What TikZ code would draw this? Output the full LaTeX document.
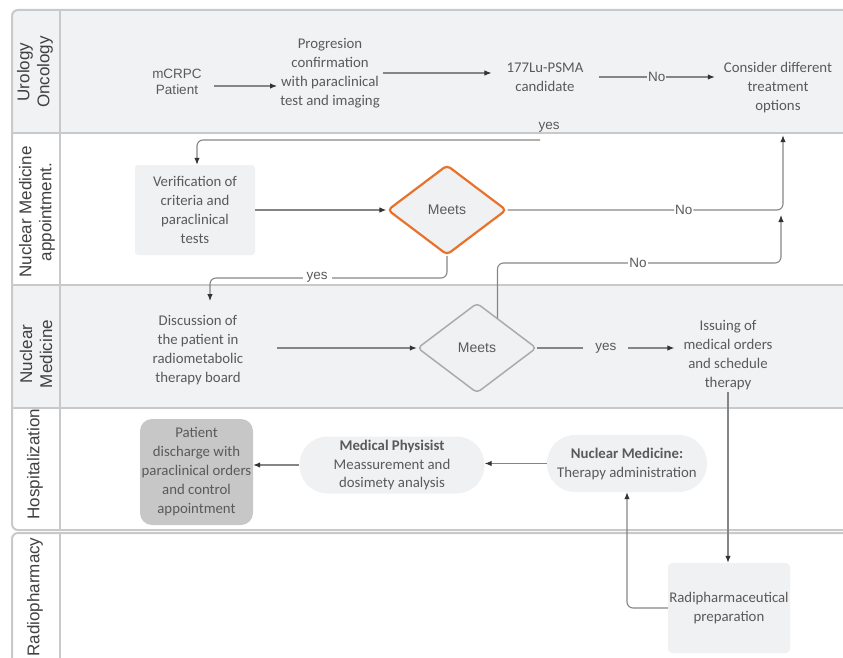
\documentclass[tikz,border=0pt]{standalone}
\usepackage{fontspec}
\setmainfont{Carlito}
\newfontfamily\arialf{Liberation Sans}
\usetikzlibrary{arrows.meta,shapes.geometric,calc}
\definecolor{lanegray}{HTML}{F1F2F4}
\definecolor{framec}{HTML}{C8C9CB}
\definecolor{txtc}{HTML}{5A5A5A}
\definecolor{hdrc}{HTML}{404040}
\definecolor{linec}{HTML}{858585}
\definecolor{tipc}{HTML}{333333}
\definecolor{orangec}{HTML}{E8722C}
\definecolor{dtwoc}{HTML}{ABABAB}
\definecolor{boxc}{HTML}{F0F1F3}
\definecolor{disfill}{HTML}{C7C7C7}
\begin{document}
\begin{tikzpicture}[x=1pt,y=-1pt,
  cal/.style={font=\fontsize{14.8}{19}\selectfont, text=txtc, align=center},
  ari/.style={font=\arialf\fontsize{13.5}{15.5}\selectfont, text=txtc, align=center},
  hdr/.style={font=\arialf\fontsize{17}{20}\selectfont, text=hdrc, align=center, rotate=90},
  lbl/.style={font=\arialf\fontsize{13.5}{16}\selectfont, text=txtc, inner sep=1pt},
  arr/.style={draw=linec, line width=1.1pt, -{Latex[length=7pt,width=5.5pt,color=tipc]}},
  dia/.style={diamond, rounded corners=4pt, fill=boxc, minimum width=119pt, minimum height=90pt, inner sep=0pt,
    font=\arialf\fontsize{14}{16}\selectfont, text=txtc},
  frame/.style={draw=framec, line width=2pt},
  sep/.style={draw=framec, line width=1.5pt}]
\useasboundingbox (0,0) rectangle (843,658);
% lanes background
\fill[lanegray] (12,133) [rounded corners=6pt]-- (12,10) [sharp corners]-- (843,10) -- (843,133) -- cycle;
\fill[lanegray] (12,285) rectangle (843,408);
% separators
\draw[sep] (12,133) -- (843,133);
\draw[sep] (12,285) -- (843,285);
\draw[sep] (12,408) -- (843,408);
\draw[sep] (60,10) -- (60,530);
\draw[sep] (60,533) -- (60,660);
% outer frames
\draw[frame] (843,10) [rounded corners=6pt]-- (12,10) -- (12,530) [sharp corners]-- (843,530);
\draw[frame] (843,533) [rounded corners=6pt]-- (12,533) [sharp corners]-- (12,662);
% headers
\node[hdr] (h1) at (35,72) {Urology\\Oncology};
\node[hdr] (h2) at (37,212) {Nuclear Medicine\\appointment.};
\node[hdr] (h3) at (36,354) {Nuclear\\Medicine};
\node[hdr] (h4) at (35,464) {Hospitalization};
\node[hdr] (h5) at (35,597) {Radiopharmacy};
% nodes
\node[ari, inner xsep=12pt] (mcrpc) at (177,82) {mCRPC\\Patient};
\node[cal, inner xsep=3pt] (prog) at (330,73) {Progresion\\confirmation\\with paraclinical\\test and imaging};
\node[cal, inner xsep=15pt] (lu) at (545,77) {177Lu-PSMA\\candidate};
\node[cal, minimum height=94pt, inner xsep=9pt] (cons) at (778,88) {Consider different\\treatment\\options};
\node[cal, fill=boxc, rounded corners=3pt, minimum width=120pt, minimum height=90pt] (verif) at (195,210) {Verification of\\criteria and\\paraclinical\\tests};
\node[dia, draw=orangec, line width=2.2pt] (d1) at (447,210) {Meets};
\node[cal, inner xsep=34pt, inner ysep=14pt] (disc) at (198,350) {Discussion of\\the patient in\\radiometabolic\\therapy board};
\node[dia, draw=dtwoc, line width=1.5pt] (d2) at (477,348) {Meets};
\node[cal, inner xsep=9pt, inner ysep=2pt] (iss) at (728,355) {Issuing of\\medical orders\\and schedule\\therapy};
\node[cal, fill=disfill, rounded corners=12pt, minimum width=113pt, minimum height=106pt, inner sep=1pt] (dis) at (196.5,472) {Patient\\discharge with\\paraclinical orders\\and control\\appointment};
\node[cal, fill=boxc, rounded corners=28pt, minimum width=185pt, minimum height=57pt, inner sep=1pt, font=\fontsize{14.8}{18.5}\selectfont] (mp) at (392,465) {\textbf{Medical Physisist}\\Meassurement and\\dosimety analysis};
\node[cal, fill=boxc, rounded corners=28pt, minimum width=160pt, minimum height=57pt, inner sep=1pt] (nmt) at (627,463.5) {\textbf{Nuclear Medicine:}\\Therapy administration};
\node[cal, fill=boxc, rounded corners=4pt, minimum width=122pt, minimum height=90pt, inner sep=1pt] (rad) at (729,608) {Radipharmaceutical\\preparation};
% connectors
\draw[arr] ([yshift=-4pt]mcrpc.east) -- ([yshift=-4pt]mcrpc.east -| prog.west);
\draw[arr] (prog.east) -- (prog.east -| lu.west);
\draw[arr] (lu.east) -- node[lbl, fill=lanegray]{No} (lu.east -| cons.west);
\coordinate (ys) at (540,140);
\node[lbl] (yes1) at (549,127) {yes};
\draw[arr, rounded corners=6pt] (ys) -| ([xshift=2pt]verif.north);
\draw[arr] (verif.east) -- (d1.west);
\draw[arr, rounded corners=6pt] (d1.east) -| ([xshift=5pt]cons.south) node[pos=0.32, lbl, fill=white]{No};
\coordinate (n2s) at ($(d2.north)!0.34!(d2.east)$);
\coordinate (n2e) at (781,215);
\draw[arr, rounded corners=6pt] (n2s) -- (n2s |- 0,263) -| (n2e);
\node[lbl, fill=white] (no2) at (638,263) {No};
\draw[arr, rounded corners=6pt] (d1.south) -- (d1.south |- 0,278) -| ([xshift=12pt]disc.north);
\node[lbl, fill=white, inner xsep=4pt] (yes2) at (317,277) {yes};
\draw[arr] (disc.east |- d2.west) -- (d2.west);
\draw[arr] (d2.east) -- node[lbl, fill=lanegray, inner xsep=12pt]{yes} (d2.east -| iss.west);
\draw[arr] (iss.south) -- (iss.south |- rad.north);
\draw[arr, rounded corners=6pt] (rad.west) -| (nmt.south);
\draw[arr] (nmt.west) -- (nmt.west -| mp.east);
\draw[arr] (mp.west) -- (mp.west -| dis.east);
\end{tikzpicture}
\end{document}
